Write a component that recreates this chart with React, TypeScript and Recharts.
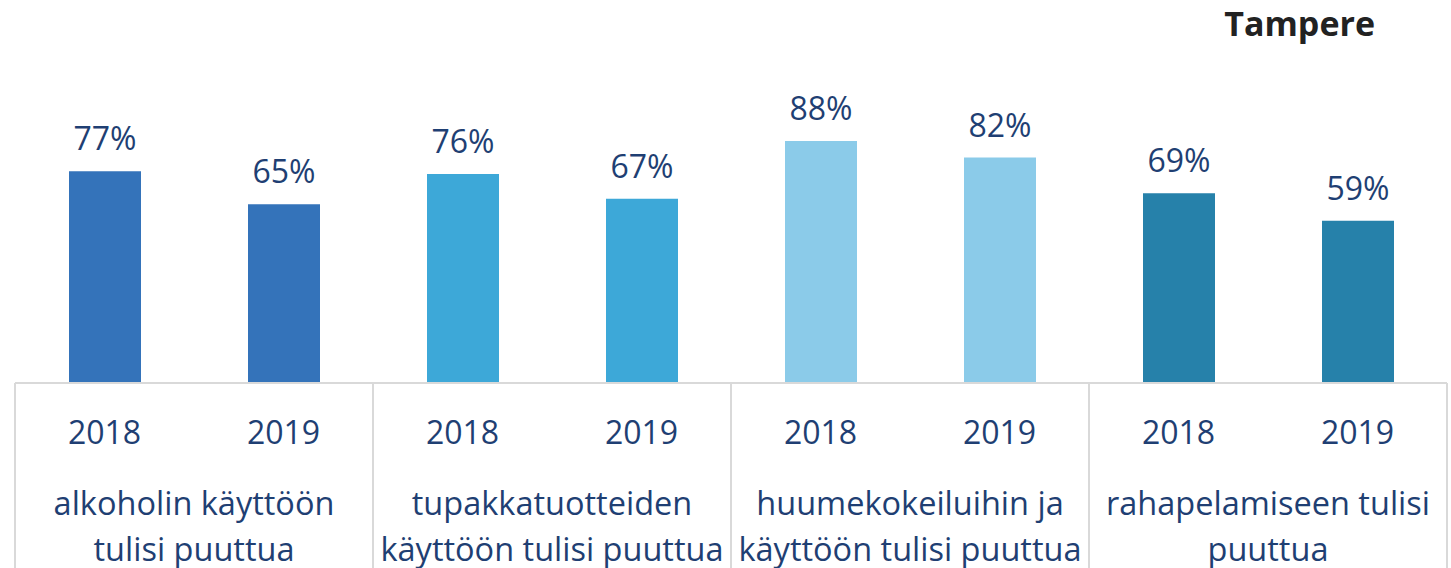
import { BarChart, Bar, XAxis, YAxis, Cell, LabelList } from "recharts";

const years = ["2018", "2019", "2018", "2019", "2018", "2019", "2018", "2019"];
const values = [77, 65, 76, 67, 88, 82, 69, 59];
const groupLabels = [
  ["alkoholin käyttöön", "tulisi puuttua"],
  ["tupakkatuotteiden", "käyttöön tulisi puuttua"],
  ["huumekokeiluihin ja", "käyttöön tulisi puuttua"],
  ["rahapelamiseen tulisi", "puuttua"],
];
const groupColors = ["#3473BA", "#3DA8D8", "#8BCBE9", "#2681AA"];

const data = values.map((v, i) => ({
  key: `${i}`,
  year: years[i],
  value: v,
  group: Math.floor(i / 2),
}));

const WIDTH = 1451;
const HEIGHT = 568;
const MARGIN = { top: 108, right: 4, bottom: 0, left: 15 };
const SLOT = (WIDTH - MARGIN.left - MARGIN.right) / data.length;
const TEXT = "#1F3F73";
const FONT = "'Open Sans', sans-serif";

function GroupTick(props: any) {
  const { x, y, payload } = props;
  const i = payload.index;
  const isFirst = i % 2 === 0;
  const group = Math.floor(i / 2);
  return (
    <g>
      <text
        x={x}
        y={y + 61}
        textAnchor="middle"
        fontSize={32}
        fontFamily={FONT}
        fill={TEXT}
      >
        {years[i]}
      </text>
      {isFirst && (
        <>
          <line x1={x - SLOT / 2} x2={x - SLOT / 2} y1={y} y2={y + 185} stroke="#d9d9d9" strokeWidth={2} />
          {groupLabels[group].map((line, k) => (
            <text
              key={k}
              x={x + SLOT / 2}
              y={y + 132 + k * 46}
              textAnchor="middle"
              fontSize={32.5}
              fontFamily={FONT}
              fill={TEXT}
            >
              {line}
            </text>
          ))}
        </>
      )}
      {i === data.length - 1 && (
        <line x1={x + SLOT / 2} x2={x + SLOT / 2} y1={y} y2={y + 185} stroke="#d9d9d9" strokeWidth={2} />
      )}
    </g>
  );
}

export default function App() {
  return (
    <div style={{ position: "absolute", left: 0, top: 0, width: WIDTH, height: HEIGHT, background: "#fff" }}>
      <BarChart width={WIDTH} height={HEIGHT} data={data} margin={MARGIN}>
        <text
          x={1375}
          y={36}
          textAnchor="end"
          fontSize={34}
          fontWeight={700}
          fontFamily={FONT}
          fill="#222"
        >
          Tampere
        </text>
        <XAxis
          dataKey="key"
          height={185}
          interval={0}
          tickLine={false}
          tickSize={0}
          tickMargin={0}
          axisLine={{ stroke: "#d9d9d9", strokeWidth: 2 }}
          tick={<GroupTick />}
        />
        <YAxis hide domain={[0, 100]} />
        <Bar dataKey="value" barSize={72} isAnimationActive={false}>
          {data.map((d, i) => (
            <Cell key={i} fill={groupColors[d.group]} />
          ))}
          <LabelList
            dataKey="value"
            position="top"
            offset={21}
            formatter={(v: any) => `${v}%`}
            fill={TEXT}
            fontSize={32}
            fontFamily={FONT}
          />
        </Bar>
      </BarChart>
    </div>
  );
}
